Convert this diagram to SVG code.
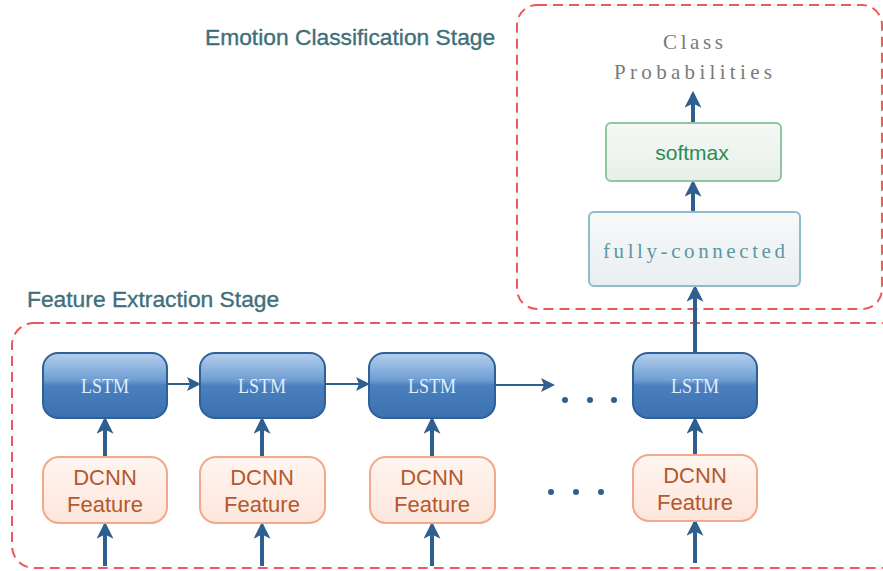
<svg xmlns="http://www.w3.org/2000/svg" width="883" height="571" viewBox="0 0 883 571">
  <defs>
    <linearGradient id="lstmFill" x1="0" y1="0" x2="0" y2="1">
      <stop offset="0" stop-color="#b4cfec"/>
      <stop offset="0.42" stop-color="#6f9dd2"/>
      <stop offset="0.5" stop-color="#4a80c0"/>
      <stop offset="1" stop-color="#3c70ae"/>
    </linearGradient>
    <linearGradient id="dcnnFill" x1="0" y1="0" x2="0" y2="1">
      <stop offset="0" stop-color="#fff5f0"/>
      <stop offset="1" stop-color="#fde6dc"/>
    </linearGradient>
    <linearGradient id="fcFill" x1="0" y1="0" x2="0" y2="1">
      <stop offset="0" stop-color="#f7f9fa"/>
      <stop offset="1" stop-color="#e9eef0"/>
    </linearGradient>
    <linearGradient id="smFill" x1="0" y1="0" x2="0" y2="1">
      <stop offset="0" stop-color="#f6f9f6"/>
      <stop offset="1" stop-color="#e7efe8"/>
    </linearGradient>
    <marker id="headBig" viewBox="0 0 16 16" refX="13" refY="8" markerWidth="17" markerHeight="17" markerUnits="userSpaceOnUse" orient="auto">
      <path d="M0,0 L16,8 L0,16 L4,8 Z" fill="#2f5f8f"/>
    </marker>
    <marker id="headSmall" viewBox="0 0 14 14" refX="12" refY="7" markerWidth="14" markerHeight="14" markerUnits="userSpaceOnUse" orient="auto">
      <path d="M0,0 L14,7 L0,14 L3,7 Z" fill="#2f5f8f"/>
    </marker>
  </defs>
  <style>
    .stage { fill: none; stroke: #ea5a5c; stroke-width: 2; stroke-dasharray: 10 6; }
    .title { font-family: "Liberation Sans", Arial, sans-serif; font-size: 22.8px; fill: #3f6f7b; stroke: #3f6f7b; stroke-width: 0.35; }
    .lstm { fill: url(#lstmFill); stroke: #2f6098; stroke-width: 2; }
    .lstmText { font-family: "Liberation Serif", serif; font-size: 21px; fill: #e2edf8; text-anchor: middle; }
    .dcnn { fill: url(#dcnnFill); stroke: #f2a98a; stroke-width: 2; }
    .dcnnText { font-family: "Liberation Sans", Arial, sans-serif; font-size: 22px; fill: #b4582e; text-anchor: middle; }
    .fc { fill: url(#fcFill); stroke: #8dbccb; stroke-width: 2; }
    .fcText { font-family: "Liberation Serif", serif; font-size: 21px; fill: #5b97a6; text-anchor: middle; }
    .sm { fill: url(#smFill); stroke: #8fc6a2; stroke-width: 2; }
    .smText { font-family: "Liberation Sans", Arial, sans-serif; font-size: 21px; fill: #2e8a55; text-anchor: middle; }
    .outText { font-family: "Liberation Serif", serif; font-size: 21px; fill: #7a7a7a; text-anchor: middle; }
    .up { stroke: #2f5f8f; stroke-width: 4; fill: none; marker-end: url(#headBig); }
    .side { stroke: #2f5f8f; stroke-width: 2; fill: none; marker-end: url(#headSmall); }
    .dot { fill: #2f5f8f; }
  </style>

  <!-- stage frames -->
  <rect class="stage" x="12" y="323" width="890" height="245" rx="22"/>
  <rect class="stage" x="517" y="5" width="365" height="304" rx="20"/>
  <text class="title" x="205" y="45">Emotion Classification Stage</text>
  <text class="title" x="27" y="307">Feature Extraction Stage</text>

  <!-- connectors -->
  <g id="connectors">
    <line class="up" x1="105" y1="566" x2="105" y2="525"/>
    <line class="up" x1="262" y1="566" x2="262" y2="525"/>
    <line class="up" x1="432" y1="566" x2="432" y2="525"/>
    <line class="up" x1="695" y1="563" x2="695" y2="522"/>
    <line class="up" x1="105" y1="457" x2="105" y2="420"/>
    <line class="up" x1="262" y1="457" x2="262" y2="420"/>
    <line class="up" x1="432" y1="457" x2="432" y2="420"/>
    <line class="up" x1="695" y1="455" x2="695" y2="420"/>
    <line class="side" x1="167" y1="384" x2="199" y2="384"/>
    <line class="side" x1="325" y1="384" x2="368" y2="384"/>
    <line class="side" x1="495" y1="385" x2="553" y2="385"/>
    <line class="up" x1="695" y1="353" x2="695" y2="288"/>
    <line class="up" x1="693" y1="212" x2="693" y2="183"/>
    <line class="up" x1="693" y1="123" x2="693" y2="94"/>
    <circle class="dot" cx="565" cy="400" r="3"/>
    <circle class="dot" cx="590" cy="400" r="3"/>
    <circle class="dot" cx="614" cy="400" r="3"/>
    <circle class="dot" cx="551" cy="492" r="3"/>
    <circle class="dot" cx="576" cy="492" r="3"/>
    <circle class="dot" cx="601" cy="492" r="3"/>
  </g>

  <!-- LSTM cells -->
  <g id="lstm1"><rect class="lstm" x="43" y="353" width="124" height="65" rx="15"/><text class="lstmText" x="105" y="393" textLength="48" lengthAdjust="spacingAndGlyphs">LSTM</text></g>
  <g id="lstm2"><rect class="lstm" x="200" y="353" width="125" height="65" rx="15"/><text class="lstmText" x="262" y="393" textLength="48" lengthAdjust="spacingAndGlyphs">LSTM</text></g>
  <g id="lstm3"><rect class="lstm" x="369" y="353" width="126" height="65" rx="15"/><text class="lstmText" x="432" y="393" textLength="48" lengthAdjust="spacingAndGlyphs">LSTM</text></g>
  <g id="lstm4"><rect class="lstm" x="633" y="353" width="124" height="65" rx="15"/><text class="lstmText" x="695" y="393" textLength="48" lengthAdjust="spacingAndGlyphs">LSTM</text></g>

  <!-- DCNN feature inputs -->
  <g id="dcnn1"><rect class="dcnn" x="43" y="457" width="124" height="66" rx="16"/><text class="dcnnText" x="105" y="485">DCNN</text><text class="dcnnText" x="105" y="512">Feature</text></g>
  <g id="dcnn2"><rect class="dcnn" x="200" y="457" width="125" height="66" rx="16"/><text class="dcnnText" x="262" y="485">DCNN</text><text class="dcnnText" x="262" y="512">Feature</text></g>
  <g id="dcnn3"><rect class="dcnn" x="370" y="457" width="125" height="66" rx="16"/><text class="dcnnText" x="432" y="485">DCNN</text><text class="dcnnText" x="432" y="512">Feature</text></g>
  <g id="dcnn4"><rect class="dcnn" x="633" y="455" width="124" height="66" rx="16"/><text class="dcnnText" x="695" y="483">DCNN</text><text class="dcnnText" x="695" y="510">Feature</text></g>

  <!-- classification head -->
  <g id="fc"><rect class="fc" x="589" y="212" width="211" height="74" rx="5"/><text class="fcText" x="694" y="258" textLength="182" lengthAdjust="spacing">fully-connected</text></g>
  <g id="softmax"><rect class="sm" x="606" y="123" width="175" height="58" rx="5"/><text class="smText" x="692" y="160">softmax</text></g>
  <g id="output"><text class="outText" x="693" y="49" textLength="60" lengthAdjust="spacing">Class</text><text class="outText" x="693" y="79" textLength="158" lengthAdjust="spacing">Probabilities</text></g>
</svg>
